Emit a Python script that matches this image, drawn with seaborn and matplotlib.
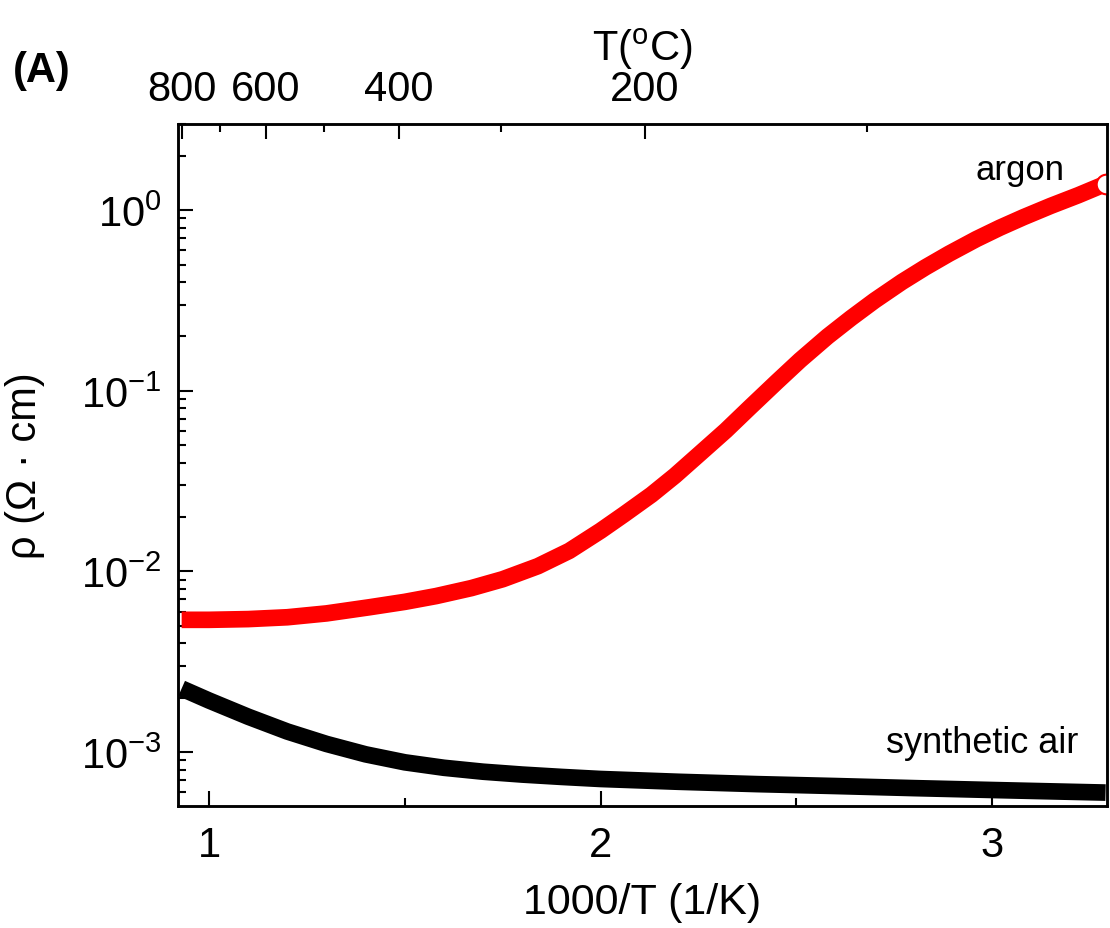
import numpy as np
import pandas as pd
import matplotlib
matplotlib.use("Agg")
import matplotlib.pyplot as plt
import seaborn as sns
from matplotlib.ticker import MultipleLocator, LogLocator, NullFormatter

# argon: 1000/T (1/K) vs resistivity (Ohm cm)
argon_x = [0.93, 1.00, 1.10, 1.20, 1.30, 1.41, 1.50, 1.58, 1.67, 1.75, 1.84,
           1.92, 2.00, 2.06, 2.13, 2.19, 2.25, 2.32, 2.38, 2.45, 2.51, 2.58,
           2.64, 2.70, 2.77, 2.83, 2.89, 2.96, 3.02, 3.08, 3.15, 3.22, 3.29]
argon_rho = [5.40e-3, 5.40e-3, 5.45e-3, 5.58e-3, 5.86e-3, 6.34e-3, 6.79e-3,
             7.31e-3, 8.09e-3, 9.06e-3, 1.07e-2, 1.30e-2, 1.68e-2, 2.07e-2,
             2.66e-2, 3.39e-2, 4.42e-2, 6.03e-2, 8.04e-2, 0.112, 0.148, 0.200,
             0.253, 0.316, 0.401, 0.483, 0.574, 0.692, 0.800, 0.914, 1.057,
             1.21, 1.40]

# synthetic air
air_x = [0.93, 1.00, 1.10, 1.20, 1.30, 1.40, 1.50, 1.60, 1.70, 1.80, 1.90,
         2.00, 2.20, 2.40, 2.60, 2.80, 3.00, 3.20, 3.29]
air_rho = [2.25e-3, 1.93e-3, 1.57e-3, 1.30e-3, 1.11e-3, 9.72e-4, 8.78e-4,
           8.19e-4, 7.79e-4, 7.51e-4, 7.29e-4, 7.10e-4, 6.85e-4, 6.65e-4,
           6.49e-4, 6.32e-4, 6.17e-4, 6.03e-4, 5.97e-4]

# top axis temperatures (deg C)
top_major = [800, 600, 400, 200]
top_minor = [700, 500, 300, 100]

sns.set_style("ticks")
plt.rcParams['font.family'] = ['Liberation Sans', 'DejaVu Sans']
plt.rcParams['mathtext.default'] = 'regular'
plt.rcParams['axes.unicode_minus'] = False
for key in ["text.color", "axes.labelcolor", "xtick.color", "ytick.color",
            "axes.edgecolor"]:
    plt.rcParams[key] = "black"

fig = plt.figure(figsize=(11.1, 9.29), dpi=100)
ax = fig.add_axes([0.1604, 0.1313, 0.8369, 0.7341])

sns.lineplot(x=argon_x, y=argon_rho, ax=ax, color="#ff0000", lw=12,
             estimator=None, sort=False, solid_capstyle="butt",
             solid_joinstyle="round")
sns.lineplot(x=air_x, y=air_rho, ax=ax, color="black", lw=12,
             estimator=None, sort=False, solid_capstyle="butt",
             solid_joinstyle="round")
# last open circle of the argon run
sns.scatterplot(x=argon_x[-1:], y=argon_rho[-1:], ax=ax, marker="o", s=200,
                color="white", edgecolor="#ff0000", linewidth=1.5, zorder=5)

ax.set_yscale("log")
ax.set_xlim(0.9208, 3.2937)
ax.set_ylim(5.03e-4, 3.0)
ax.xaxis.set_major_locator(MultipleLocator(1))
ax.xaxis.set_minor_locator(MultipleLocator(0.5))
ax.yaxis.set_major_locator(LogLocator(base=10, numticks=10))
ax.yaxis.set_minor_locator(LogLocator(base=10, subs=np.arange(2, 10), numticks=20))
ax.yaxis.set_minor_formatter(NullFormatter())

ax.tick_params(which="both", direction="in", top=False, right=False,
               width=1.5, labelsize=30)
ax.tick_params(which="major", length=10.5)
ax.tick_params(which="minor", length=5.5)
ax.tick_params(axis="x", pad=14)
ax.tick_params(axis="y", pad=12)
for s in ax.spines.values():
    s.set_linewidth(1.8)

ax.set_xlabel("1000/T (1/K)", fontsize=31, labelpad=12)
ax.set_ylabel("ρ (Ω · cm)", fontsize=30, labelpad=26)

# top temperature axis
ax2 = ax.twiny()
ax2.set_xlim(ax.get_xlim())
ax2.set_xticks([1000 / (t + 273.15) for t in top_major])
ax2.set_xticklabels([str(t) for t in top_major])
ax2.set_xticks([1000 / (t + 273.15) for t in top_minor], minor=True)
ax2.tick_params(which="both", direction="in", width=1.5, labelsize=30, pad=11)
ax2.tick_params(which="major", length=10.5)
ax2.tick_params(which="minor", length=5.5)
ax2.set_xlabel(r"T($^{o}$C)", fontsize=30, labelpad=6)
for s in ax2.spines.values():
    s.set_linewidth(1.8)

ax.text(3.186, 1.49, "argon", fontsize=25, ha="right", va="baseline")
ax.text(3.22, 1.0e-3, "synthetic air", fontsize=26, ha="right", va="baseline")
fig.text(0.012, 0.912, "(A)", fontsize=30, fontweight="bold", ha="left", va="baseline")

fig.savefig("out.png", dpi=100)
